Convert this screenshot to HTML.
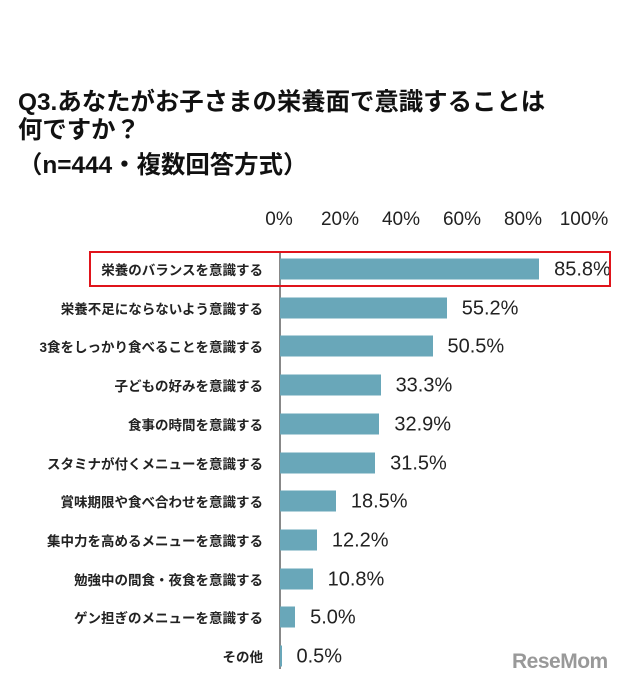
<!DOCTYPE html>
<html><head><meta charset="utf-8"><style>
body{margin:0;background:#fff;width:623px;height:687px;position:relative;overflow:hidden;font-family:"Liberation Sans","Noto Sans CJK JP",sans-serif}
.t{position:absolute;left:18px;font-weight:bold;font-size:24.4px;color:#111;white-space:nowrap;line-height:1}
.ax{position:absolute;top:209px;font-size:19px;color:#222;transform:translateX(-50%)}
.lab{position:absolute;right:360px;font-size:13.5px;font-weight:bold;color:#222;white-space:nowrap;transform:translateY(-50%)}
.bar{position:absolute;left:280px;height:21px;background:#69a7b9;transform:translateY(-50%)}
.val{position:absolute;font-size:20px;color:#222;transform:translateY(-50%)}
</style></head><body>
<div class="t" style="top:91px">Q3.あなたがお子さまの栄養面で意識することは</div>
<div class="t" style="top:119px">何ですか？</div>
<div class="t" style="top:154px">（n=444・複数回答方式）</div>
<div class="ax" style="left:279px">0%</div>
<div class="ax" style="left:340px">20%</div>
<div class="ax" style="left:401px">40%</div>
<div class="ax" style="left:462px">60%</div>
<div class="ax" style="left:523px">80%</div>
<div class="ax" style="left:584px">100%</div>
<div style="position:absolute;left:279px;top:253px;width:1.5px;height:416px;background:#888"></div>
<div id="rows"></div>
<div style="position:absolute;left:89px;top:251px;width:518px;height:32px;border:2.5px solid #e0141b"></div>
<div style="position:absolute;left:512px;top:650px;font-size:21px;font-weight:bold;color:#999;letter-spacing:-0.5px">ReseMom</div>
<script>
var d=[["栄養のバランスを意識する",85.8],["栄養不足にならないよう意識する",55.2],["3食をしっかり食べることを意識する",50.5],["子どもの好みを意識する",33.3],["食事の時間を意識する",32.9],["スタミナが付くメニューを意識する",31.5],["賞味期限や食べ合わせを意識する",18.5],["集中力を高めるメニューを意識する",12.2],["勉強中の間食・夜食を意識する",10.8],["ゲン担ぎのメニューを意識する",5.0],["その他",0.5]];
var h="";d.forEach(function(r,i){var y=269+i*38.7,w=r[1]*3.02;
h+='<div class="lab" style="top:'+y+'px">'+r[0]+'</div><div class="bar" style="top:'+y+'px;width:'+w+'px"></div><div class="val" style="top:'+(y+1)+'px;left:'+(280+w+15)+'px">'+r[1].toFixed(1)+'%</div>';});
document.getElementById("rows").innerHTML=h;
</script>
</body></html>
